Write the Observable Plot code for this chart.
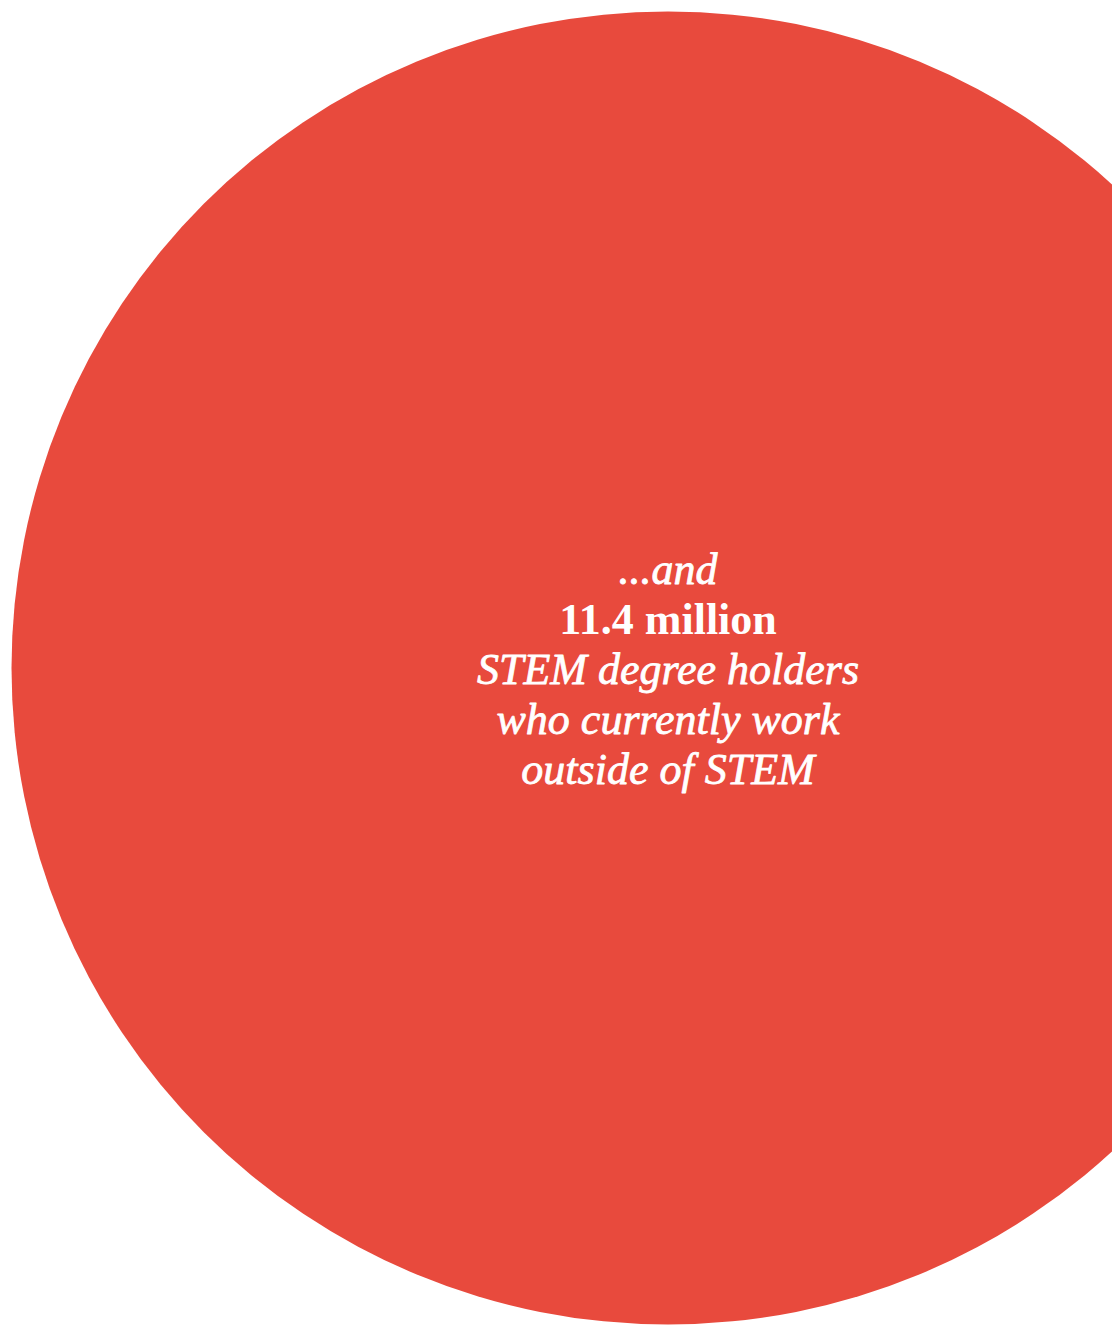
<!DOCTYPE html>
<html>
<head>
<meta charset="utf-8">
<script src="https://cdn.jsdelivr.net/npm/d3@7"></script>
<script src="https://cdn.jsdelivr.net/npm/@observablehq/plot@0.6"></script>
<style>
  html, body { margin: 0; padding: 0; background: #ffffff; overflow: hidden; }
  #chart svg { overflow: hidden; display: block; }
</style>
</head>
<body>
<div id="chart"></div>
<script>
// Data
const categories = ["STEM degree holders working outside of STEM"];
const valuesMillions = [11.4];
const labelLines = ["...and", "11.4 million", "STEM degree holders", "who currently work", "outside of STEM"];
const labelStyles = ["italic", "normal", "italic", "italic", "italic"];
const labelWeights = ["normal", "bold", "normal", "normal", "normal"];

const data = categories.map((c, i) => ({category: c, value: valuesMillions[i]}));

const red = "#E84A3D";
const lineGap = 50;

const marks = [
  Plot.dot(data, {
    frameAnchor: "middle",
    r: "value",
    fill: red,
    stroke: null
  })
];
labelLines.forEach((line, i) => {
  const isNumber = labelWeights[i] === "bold";
  marks.push(Plot.text([line], {
    frameAnchor: "middle",
    text: d => d,
    dy: (i - 2) * lineGap + 2,
    fill: "#ffffff",
    stroke: "#ffffff",
    strokeWidth: isNumber ? 0 : 0.8,
    fontSize: 44,
    fontStyle: labelStyles[i],
    fontWeight: labelWeights[i],
    fontFamily: "Liberation Serif, serif",
    letterSpacing: isNumber ? "1px" : "0px",
    textAnchor: "middle",
    lineAnchor: "middle"
  }));
});

const chart = Plot.plot({
  width: 1112,
  height: 1330,
  marginLeft: 223,
  marginRight: 0,
  marginTop: 5,
  marginBottom: 0,
  r: {type: "sqrt", domain: [0, 11.4], range: [0, 656.5]},
  style: {background: "transparent"},
  marks
});
document.getElementById("chart").appendChild(chart);
</script>
</body>
</html>
